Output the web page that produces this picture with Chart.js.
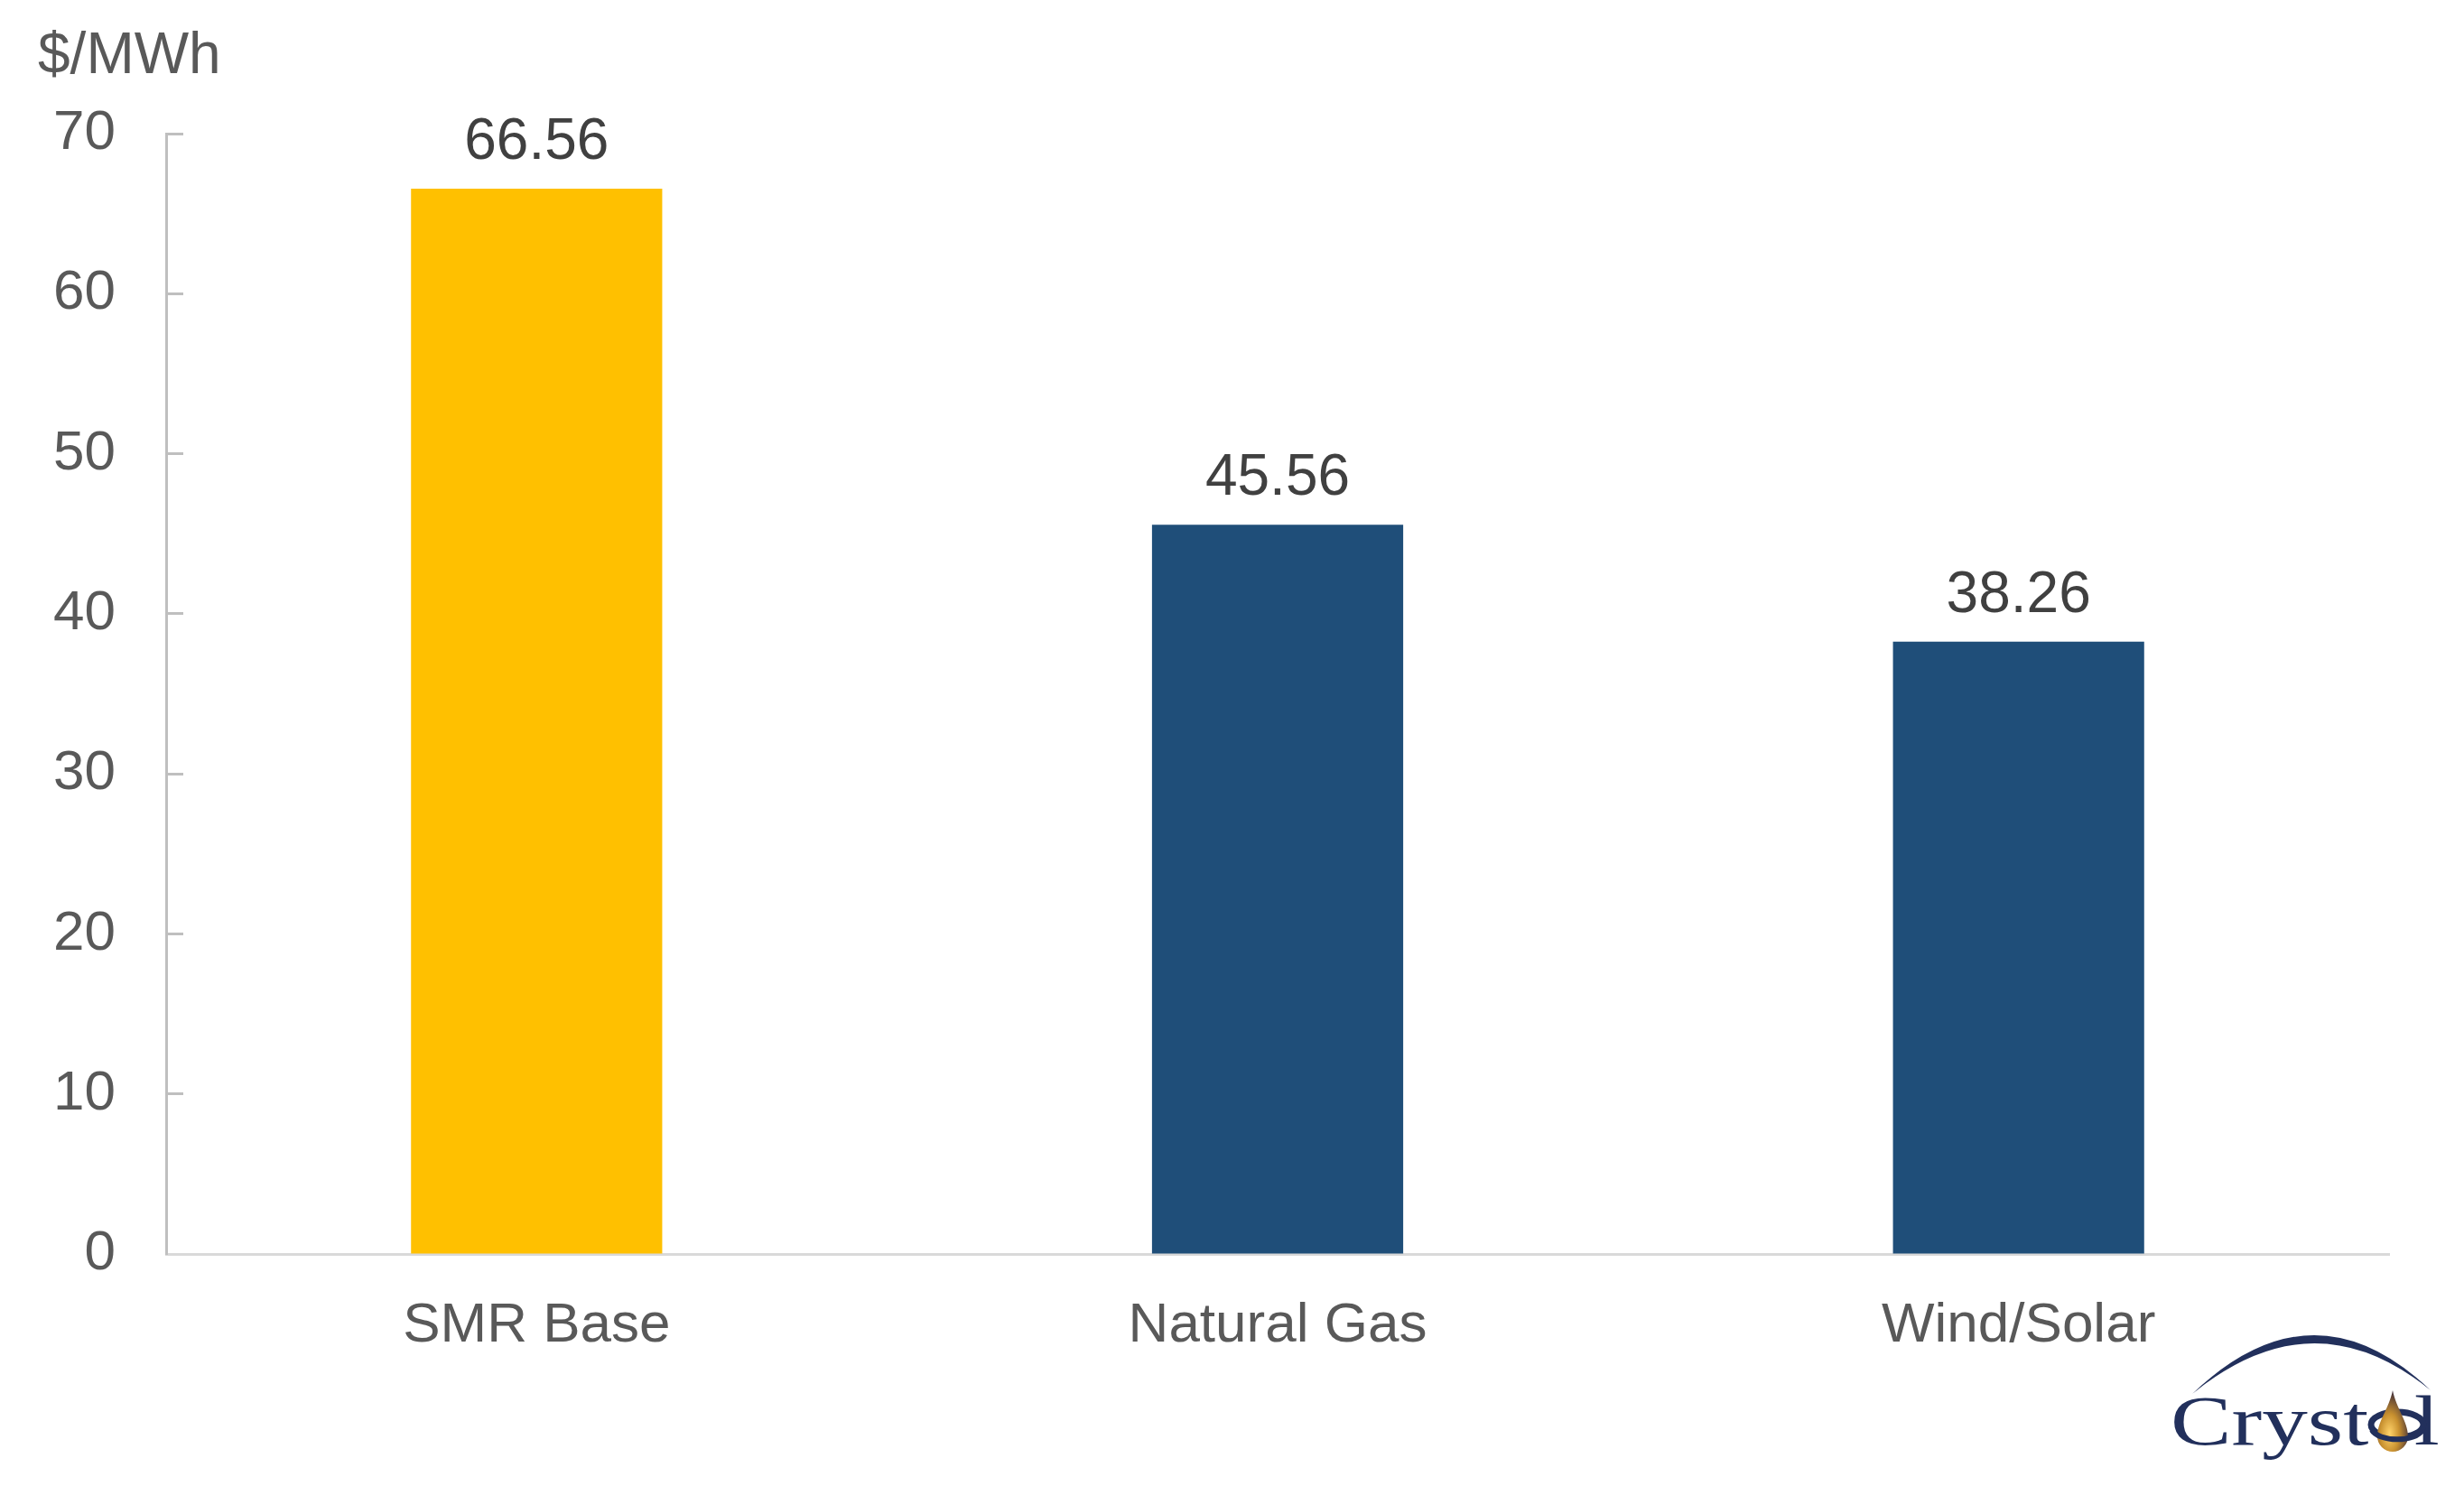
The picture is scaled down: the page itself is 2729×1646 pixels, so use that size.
<!DOCTYPE html>
<html>
<head>
<meta charset="utf-8">
<script src="https://cdn.jsdelivr.net/npm/chart.js@4"></script>
<style>
  html, body { margin: 0; padding: 0; background: #ffffff; }
  #wrap { position: relative; width: 2729px; height: 1646px; }
  #chart { position: absolute; left: 0; top: 0; }
  #logo { position: absolute; left: 0; top: 0; pointer-events: none; }
</style>
</head>
<body>
<div id="wrap">
  <canvas id="chart" width="2729" height="1646"></canvas>
  <svg id="logo" width="2729" height="1646" viewBox="0 0 2729 1646" xmlns="http://www.w3.org/2000/svg">
    <defs>
      <radialGradient id="dropGrad" cx="0.4" cy="0.7" r="0.7">
        <stop offset="0" stop-color="#ffd36a"/>
        <stop offset="0.45" stop-color="#c8902f"/>
        <stop offset="1" stop-color="#3a2a3a"/>
      </radialGradient>
    </defs>
    <path d="M2428,1544 Q2562,1416 2692,1540 Q2562,1434 2428,1544 Z" fill="#22305c"/>
    <text x="2404" y="1600" font-family="Liberation Serif, DejaVu Serif, serif" font-size="78" fill="#22305c" textLength="298" lengthAdjust="spacingAndGlyphs">Cryst<tspan fill="none">o</tspan>l</text>
    <ellipse cx="2655" cy="1578" rx="29" ry="14" fill="none" stroke="#22305c" stroke-width="7"/>
    <path d="M2650,1540 C2654,1560 2667,1575 2667,1591 A17,17 0 0 1 2633,1591 C2633,1575 2646,1560 2650,1540 Z" fill="url(#dropGrad)"/>
    <path d="M2627,1584 A29,14 0 0 0 2683,1584" fill="none" stroke="#22305c" stroke-width="6"/>
  </svg>
</div>
<script>
const categories = ["SMR Base", "Natural Gas", "Wind/Solar"];
const values = [66.56, 45.56, 38.26];
const valueLabels = ["66.56", "45.56", "38.26"];
const barColors = ["#FFC000", "#1F4E79", "#1F4E79"];
const unitLabel = "$/MWh";
const yMin = 0, yMax = 70, yStep = 10;

const FONT = "'Liberation Sans', Arial, Helvetica, sans-serif";

const valueLabelPlugin = {
  id: 'valueLabels',
  afterDatasetsDraw(chart) {
    const ctx = chart.ctx;
    const meta = chart.getDatasetMeta(0);
    ctx.save();
    ctx.font = "64px " + FONT;
    ctx.fillStyle = "#404040";
    ctx.textAlign = "center";
    ctx.textBaseline = "alphabetic";
    meta.data.forEach((bar, i) => {
      ctx.fillText(valueLabels[i], bar.x, bar.y - 33);
    });
    ctx.restore();
  }
};

const unitPlugin = {
  id: 'unitLabel',
  afterDraw(chart) {
    const ctx = chart.ctx;
    ctx.save();
    ctx.font = "64px " + FONT;
    ctx.fillStyle = "#595959";
    ctx.textAlign = "left";
    ctx.textBaseline = "alphabetic";
    ctx.fillText(unitLabel, 42, 81);
    ctx.restore();
  }
};

new Chart(document.getElementById('chart'), {
  type: 'bar',
  data: {
    labels: categories,
    datasets: [{
      data: values,
      backgroundColor: barColors,
      borderWidth: 0,
      barPercentage: 0.339,
      categoryPercentage: 1.0
    }]
  },
  options: {
    responsive: false,
    animation: false,
    devicePixelRatio: 1,
    layout: { padding: { left: 0, right: 83, top: 148, bottom: 0 } },
    plugins: {
      legend: { display: false },
      tooltip: { enabled: false },
      title: { display: false }
    },
    scales: {
      x: {
        afterFit(scale) { scale.height = 257; },
        grid: { display: true, drawOnChartArea: false, drawTicks: false },
        border: { display: true, color: "#D9D9D9", width: 3 },
        ticks: {
          color: "#595959",
          font: { family: FONT, size: 62 },
          padding: 43
        }
      },
      y: {
        min: yMin,
        max: yMax,
        afterFit(scale) { scale.width = 184; },
        grid: {
          display: true,
          drawOnChartArea: false,
          drawTicks: true,
          tickLength: -19,
          tickWidth: 3,
          tickColor: "#BFBFBF"
        },
        border: { display: true, color: "#BFBFBF", width: 3 },
        ticks: {
          stepSize: yStep,
          color: "#595959",
          font: { family: FONT, size: 62 },
          padding: 75
        }
      }
    }
  },
  plugins: [valueLabelPlugin, unitPlugin]
});
</script>
</body>
</html>
